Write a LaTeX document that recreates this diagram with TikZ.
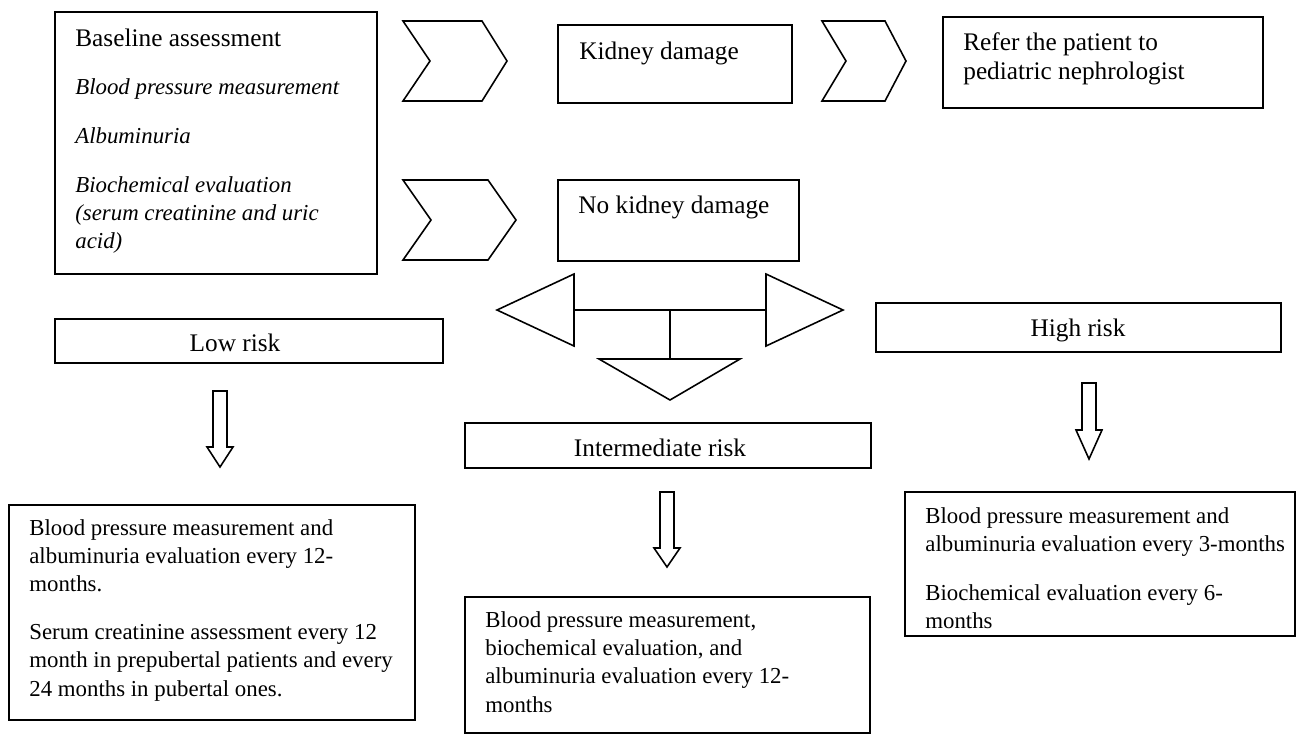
\documentclass[tikz,border=0pt]{standalone}
\usepackage{fontspec}
\setmainfont{Liberation Serif}

\newcommand{\bigsize}{\fontsize{14.4pt}{16.5pt}\selectfont}
\tikzset{
  frame/.style={draw,line width=0.9pt,anchor=north west,inner sep=0pt,outer sep=0pt},
  boxtext/.style={anchor=north west,align=left,inner sep=0pt,font=\fontsize{13pt}{16.1pt}\selectfont},
  headtext/.style={anchor=north west,align=left,inner sep=0pt,font=\bigsize},
  risktext/.style={inner sep=0pt,font=\bigsize},
  blockarrow/.style={draw,line width=0.9pt,line join=miter}
}

\begin{document}
\begin{tikzpicture}[x=0.02cm,y=-0.02cm]
\useasboundingbox (0,0) rectangle (1298,735);

%draw boxes
\node[frame,minimum width=6.44cm,minimum height=5.24cm] (base) at (55,12) {};
\node[frame,minimum width=4.68cm,minimum height=1.56cm] (damage) at (558,25) {};
\node[frame,minimum width=6.40cm,minimum height=1.82cm] (refer) at (943,17) {};
\node[frame,minimum width=4.82cm,minimum height=1.62cm] (nodamage) at (558,180) {};
\node[frame,minimum width=7.76cm,minimum height=0.88cm] (low) at (55,319) {};
\node[frame,minimum width=8.12cm,minimum height=0.90cm] (inter) at (465,423) {};
\node[frame,minimum width=8.10cm,minimum height=0.98cm] (high) at (876,303) {};
\node[frame,minimum width=8.12cm,minimum height=4.30cm] (lowplan) at (9,505) {};
\node[frame,minimum width=8.10cm,minimum height=2.72cm] (interplan) at (465,597) {};
\node[frame,minimum width=7.80cm,minimum height=2.88cm] (highplan) at (905,492) {};

%label boxes
\node[boxtext] (basetext) at (75,29) {{\bigsize Baseline assessment}\\[0.39cm]
\textit{Blood pressure measurement}\\[0.41cm]
\textit{Albuminuria}\\[0.41cm]
\textit{Biochemical evaluation}\\
\textit{(serum creatinine and uric}\\
\textit{acid)}};
\node[headtext] (damagetext) at (579,42) {Kidney damage};
\node[headtext] (refertext) at (963,32) {Refer the patient to\\pediatric nephrologist};
\node[headtext] (nodamagetext) at (578,196) {No kidney damage};
\node[risktext] (lowtext) at (235,343) {Low risk};
\node[risktext] (intertext) at (660,448) {Intermediate risk};
\node[risktext] (hightext) at (1078,330) {High risk};
\node[boxtext] (lowplantext) at (29,519) {Blood pressure measurement and\\
albuminuria evaluation every 12-\\
months.\\[0.39cm]
Serum creatinine assessment every 12\\
month in prepubertal patients and every\\
24 months in pubertal ones.};
\node[boxtext] (interplantext) at (485,611) {Blood pressure measurement,\\
biochemical evaluation, and\\
albuminuria evaluation every 12-\\
months};
\node[boxtext] (highplantext) at (925,507) {Blood pressure measurement and\\
albuminuria evaluation every 3-months\\[0.41cm]
Biochemical evaluation every 6-\\
months};

%draw chevrons
\foreach \a/\n/\s/\t/\top/\bot in {403/430/482/507/21/101, 822/846/885/906/21/101, 403/431/488/516/180/260}
	{
	\draw[blockarrow] (\a,\top) -- (\s,\top) -- (\t,{(\top+\bot)/2}) -- (\s,\bot) -- (\a,\bot) -- (\n,{(\top+\bot)/2}) -- cycle;
	}

%draw split arrow
\coordinate (splitleft) at (574,310);
\coordinate (splitright) at (766,310);
\coordinate (split) at (670,310);
\coordinate (splitdown) at (670,359);
\draw[blockarrow] (574,274) -- (574,346) -- (497,310) -- cycle;
\draw[blockarrow] (766,274) -- (766,346) -- (843,310) -- cycle;
\draw[blockarrow] (599,359) -- (740,359) -- (670,400) -- cycle;
\draw[line width=1.1pt] (splitleft) -- (splitright);
\draw[line width=1.1pt] (split) -- (splitdown);

%draw down arrows
\foreach \x/\ya/\yb/\yc in {220/391/447/467, 667/492/548/567, 1089/383/430/459}
	{
	\draw[blockarrow] ({\x-7},\ya) -- ({\x+7},\ya) -- ({\x+7},\yb) -- ({\x+13},\yb) -- (\x,\yc) -- ({\x-13},\yb) -- ({\x-7},\yb) -- cycle;
	}

\end{tikzpicture}
\end{document}
